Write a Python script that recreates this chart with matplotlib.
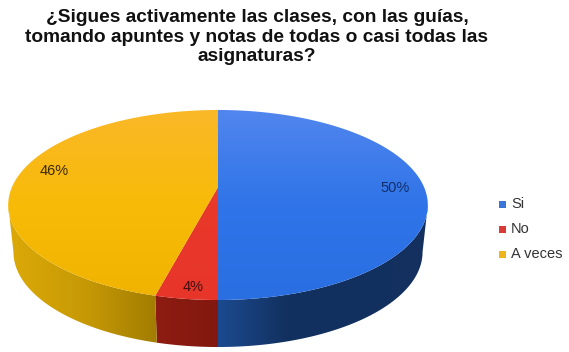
import numpy as np
import matplotlib
matplotlib.use('Agg')
import matplotlib.pyplot as plt
from matplotlib.colors import LinearSegmentedColormap
from matplotlib.patches import Polygon, Rectangle

plt.rcParams['font.family'] = ['Liberation Sans', 'DejaVu Sans']

title = u'\u00bfSigues activamente las clases, con las gu\u00edas,\ntomando apuntes y notas de todas o casi todas las\nasignaturas?'
labels = ['Si', 'No', 'A veces']
values = [50, 4, 46]

# top face: light at the back, plain at the front
top_colors = [['#5286ee', '#2f74e8', '#2a6fe2'],
              ['#f06a55', '#e8392a', '#e8352a'],
              ['#fab828', '#f8bb08', '#f0b400']]
# side: horizontal shade, left to right
side_colors = [['#1c4a90', '#12305f', '#12305f', '#14305f'],
               ['#8e1c12', '#82180f'],
               ['#dca908', '#c79a05', '#a27d02']]
legend_colors = ['#3a75d8', '#d83a35', '#eeb51a']
text_colors = ['#12306a', '#401010', '#3a2a00']

# pie shape in pixels of the picture
cx, cy = 218, 187
a, b, k = 206, 91.6, 0.1895
depth = 47
shrink = 0.975


def project(t, r=1.0):
    # t is clockwise from the top, with perspective
    u = r * np.sin(t)
    v = r * np.cos(t)
    w = 1 + k * v
    return cx + a * u / w, cy - b * v / w


def clipped_image(ax, colors, poly, horizontal, extent, zorder):
    cmap = LinearSegmentedColormap.from_list('g', colors)
    g = np.linspace(0, 1, 256)
    g = g.reshape(1, -1) if horizontal else g.reshape(-1, 1)
    im = ax.imshow(g, cmap=cmap, extent=extent, origin='upper', aspect='auto', zorder=zorder)
    patch = Polygon(poly, closed=True, transform=ax.transData, fc='none', ec='none')
    ax.add_patch(patch)
    im.set_clip_path(patch)


fig = plt.figure(figsize=(5.69, 3.52), dpi=100)
ax = fig.add_axes([0, 0, 1, 1])

fracs = np.array(values) / sum(values)
edges = np.concatenate([[0], np.cumsum(fracs)]) * 2 * np.pi

# the side shows only between the widest points of the ellipse
t_right = np.arccos(-k)
t_left = 2 * np.pi - t_right

for i in range(len(values)):
    t = np.linspace(max(edges[i], t_right), min(edges[i + 1], t_left), 200)
    x, y = project(t)
    xb = cx + (x - cx) * shrink
    yb = y + depth
    side = np.column_stack([np.concatenate([x, xb[::-1]]), np.concatenate([y, yb[::-1]])])
    xs = side[:, 0]
    clipped_image(ax, side_colors[i], side, True, (xs.min(), xs.max(), 352, 0), 2)

for i in range(len(values)):
    t = np.linspace(edges[i], edges[i + 1], 200)
    x, y = project(t)
    top = np.column_stack([np.concatenate([[cx], x]), np.concatenate([[cy], y])])
    ext = (0, 569, project(np.pi)[1], project(0.0)[1])
    clipped_image(ax, top_colors[i], top, False, ext, 3)

# value labels
label_r = [0.86, 0.78, 0.86]
label_off = [(0, 1), (-1, 17), (8, -6)]
for i in range(len(values)):
    mid = (edges[i] + edges[i + 1]) / 2
    lx, ly = project(mid, label_r[i])
    ax.text(lx + label_off[i][0], ly + label_off[i][1], '%d%%' % values[i], color=text_colors[i],
            fontsize=10.5, ha='center', va='center', zorder=5)

# legend
for i, name in enumerate(labels):
    ly = 204 + i * 25
    ax.add_patch(Rectangle((499.5, ly - 3.5), 7, 7, fc=legend_colors[i], ec='none', zorder=5))
    ax.text(511, ly, name, fontsize=10.5, color='#333333', ha='left', va='center', zorder=5)

ax.text(257, 37, title, fontsize=13.8, fontweight='bold', color='#111111', ha='center', va='center',
        linespacing=1.22, zorder=5)

ax.set_xlim(0, 569)
ax.set_ylim(352, 0)
ax.axis('off')
fig.savefig('out.png', dpi=100, facecolor='white')
